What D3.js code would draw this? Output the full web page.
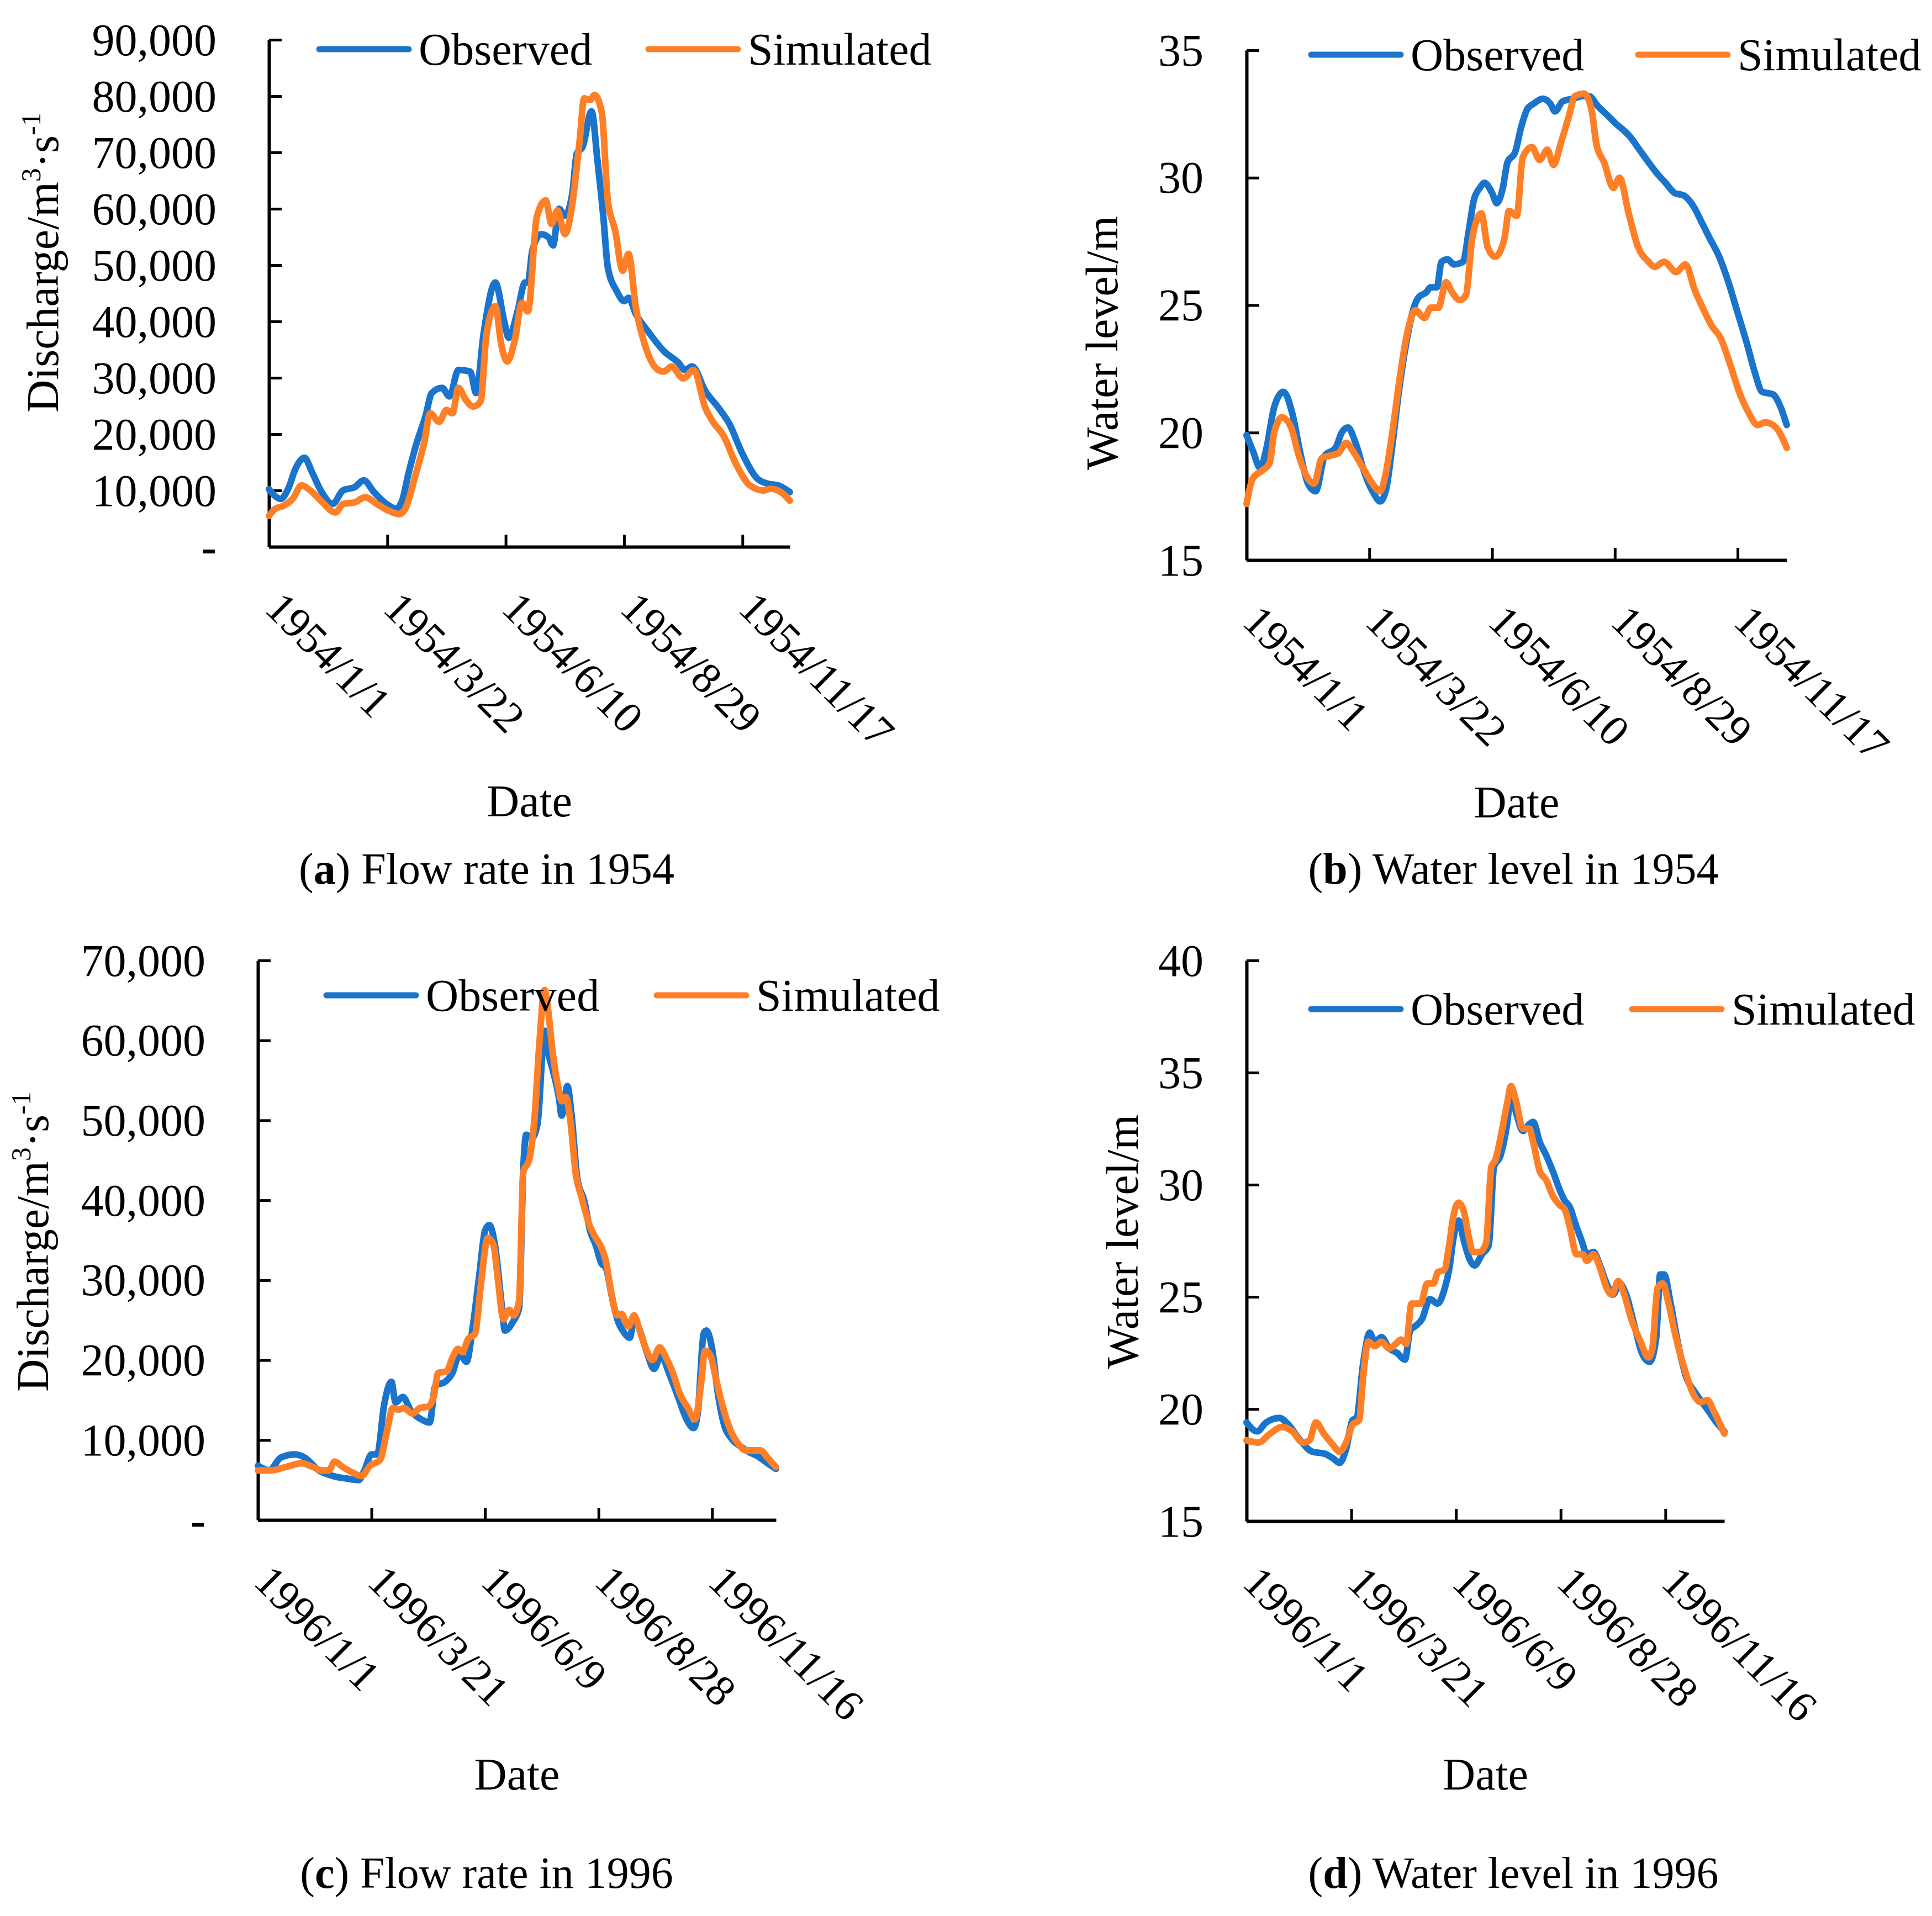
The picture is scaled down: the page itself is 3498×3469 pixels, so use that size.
<!DOCTYPE html>
<html>
<head>
<meta charset="utf-8">
<script src="https://cdn.jsdelivr.net/npm/d3@7"></script>
<style>
  body { margin: 0; background: #fff; }
  text { font-family: "Liberation Serif", "Times New Roman", serif; fill: #000; }
</style>
</head>
<body>
<div id="chart"></div>
<script>
// day index (0 = Jan 1) and value
var flow1954Obs = [[0,10200],[8,8500],[13,10300],[18,13900],[24,15800],[29,13300],[35,10000],[43,7600],[50,10000],[58,10600],[64,11800],[71,9700],[78,7900],[86,6800],[90,8200],[94,12700],[99,17700],[106,23400],[110,27300],[117,28200],[122,26700],[128,31400],[136,31100],[140,27300],[145,37700],[153,46900],[159,40000],[162,37100],[168,41800],[173,46900],[175,46900],[178,52600],[184,55500],[189,54900],[192,53500],[196,60000],[200,58800],[205,62700],[208,69800],[212,71000],[218,77300],[222,68600],[226,58500],[229,49600],[235,45400],[240,43600],[243,44200],[248,41300],[256,38300],[267,34700],[277,32600],[281,31400],[286,32000],[295,27600],[304,24600],[311,21900],[320,16500],[330,12100],[337,11200],[344,10900],[352,9700]];
var flow1954Sim = [[0,5500],[4,6700],[10,7300],[16,8500],[22,10900],[28,10000],[35,8200],[45,6100],[50,7600],[58,7900],[65,8800],[73,7600],[81,6400],[88,5800],[92,6700],[99,12700],[105,18600],[109,23700],[115,22200],[120,24300],[124,23700],[128,28200],[133,26100],[138,24900],[143,25800],[147,37700],[153,42700],[157,35900],[161,32900],[166,36500],[171,43300],[175,41800],[181,58500],[187,61500],[191,57300],[195,59700],[200,55500],[205,60900],[210,72200],[213,79600],[217,79300],[220,80200],[225,77000],[229,61500],[234,56100],[239,49000],[243,52000],[248,42400],[254,35900],[263,31400],[267,31100],[272,32000],[280,29900],[287,31400],[295,24600],[300,22200],[307,19800],[316,14500],[325,10900],[334,10000],[339,10300],[346,9700],[352,8200]];

var level1954Obs = [[0,19.9],[4,19.3],[9,18.6],[13,19.4],[18,21.0],[24,21.6],[30,20.7],[35,19.2],[40,18.0],[45,17.7],[51,19.1],[58,19.4],[62,20.0],[66,20.2],[71,19.6],[77,18.4],[83,17.6],[87,17.3],[91,17.8],[95,19.5],[99,21.5],[104,23.5],[109,24.9],[112,25.3],[117,25.5],[120,25.7],[124,25.7],[127,26.7],[131,26.8],[135,26.6],[141,26.7],[145,28.0],[148,29.1],[152,29.6],[155,29.8],[160,29.4],[163,29.0],[167,29.6],[170,30.6],[175,31.0],[179,32.0],[183,32.7],[187,32.9],[193,33.1],[198,32.9],[201,32.6],[206,33.0],[213,33.1],[219,33.2],[223,33.2],[229,32.8],[236,32.4],[241,32.1],[245,31.9],[250,31.6],[256,31.1],[262,30.6],[267,30.2],[273,29.8],[279,29.4],[285,29.3],[291,28.9],[297,28.2],[302,27.6],[308,26.9],[314,25.9],[320,24.7],[326,23.5],[331,22.4],[336,21.6],[343,21.5],[348,21.0],[352,20.3]];
var level1954Sim = [[0,17.2],[4,18.2],[10,18.5],[15,18.8],[18,20.0],[23,20.6],[29,20.2],[34,19.1],[40,18.2],[44,18.0],[49,19.0],[55,19.1],[60,19.2],[65,19.6],[69,19.3],[76,18.6],[82,18.0],[87,17.7],[90,18.2],[95,20.0],[99,21.8],[104,23.7],[110,24.8],[116,24.5],[120,24.9],[125,24.9],[130,25.9],[134,25.5],[139,25.2],[143,25.4],[147,27.6],[153,28.6],[157,27.3],[162,26.9],[168,27.6],[171,28.7],[176,28.5],[180,30.8],[186,31.2],[191,30.7],[196,31.1],[200,30.5],[205,31.4],[210,32.4],[214,33.2],[220,33.3],[225,32.6],[228,31.3],[233,30.6],[239,29.6],[243,30.0],[249,28.6],[255,27.3],[262,26.7],[266,26.5],[272,26.7],[280,26.3],[286,26.6],[292,25.6],[298,24.8],[303,24.2],[309,23.7],[315,22.7],[321,21.6],[327,20.8],[333,20.3],[338,20.4],[345,20.2],[352,19.4]];

var flow1996Obs = [[0,6800],[8,6200],[16,7800],[26,8200],[33,7800],[43,6200],[53,5500],[62,5200],[71,5000],[75,6200],[80,8200],[84,8200],[89,14500],[94,17300],[97,14700],[102,15400],[108,13600],[115,12600],[121,12200],[125,16800],[132,17300],[137,18400],[142,20700],[147,19800],[151,23700],[156,30700],[160,36200],[163,36900],[167,34400],[172,26500],[174,23700],[180,24900],[184,26500],[187,44100],[189,48200],[193,47800],[197,49600],[202,61200],[204,58900],[208,56100],[212,52900],[214,50600],[218,54300],[221,50600],[225,42700],[230,39900],[234,36200],[238,34400],[242,32100],[245,31600],[250,27400],[254,24700],[257,23700],[262,22800],[265,25100],[268,24200],[274,21000],[279,18900],[284,20500],[290,18200],[296,15400],[302,12600],[307,11500],[310,13600],[314,23300],[316,23700],[320,21400],[324,15900],[328,12200],[334,10100],[340,9200],[346,8500],[352,8000],[359,7100],[365,6400]];
var flow1996Sim = [[0,6200],[9,6200],[19,6600],[31,7100],[39,6600],[45,6200],[50,6200],[54,7300],[60,6600],[67,5900],[73,5500],[79,6800],[86,7500],[91,11200],[95,14000],[99,13800],[103,14000],[109,13300],[114,14000],[120,14200],[124,15600],[127,18400],[133,18600],[137,20300],[141,21400],[144,21000],[148,22600],[153,23300],[157,29300],[162,35300],[166,34400],[169,30200],[173,25100],[177,26300],[180,25600],[184,27400],[187,43600],[191,45000],[195,50600],[198,58900],[202,66300],[204,64400],[208,58000],[212,53800],[214,52400],[217,52900],[220,50100],[224,43200],[228,40400],[234,36700],[238,35300],[242,34100],[245,32500],[249,28400],[253,25600],[256,25800],[261,24200],[265,25600],[269,23700],[273,21600],[278,20000],[283,21600],[287,20500],[292,18600],[297,15900],[303,14000],[308,12600],[312,16800],[315,21200],[319,20500],[322,18200],[327,14500],[333,11200],[339,9400],[344,8700],[350,8700],[354,8700],[359,7800],[365,6600]];

var level1996Obs = [[0,19.4],[8,19.0],[15,19.4],[25,19.6],[32,19.3],[41,18.6],[50,18.1],[60,18.0],[66,17.8],[71,17.6],[76,18.2],[81,19.5],[84,19.6],[89,22.0],[94,23.4],[98,23.0],[103,23.2],[109,22.7],[115,22.5],[121,22.2],[125,23.5],[129,23.7],[134,24.0],[140,24.9],[146,24.7],[151,25.3],[155,26.3],[158,27.6],[162,28.4],[166,27.5],[171,26.6],[174,26.4],[180,26.9],[185,27.3],[189,30.8],[194,31.3],[199,32.7],[202,34.0],[206,33.2],[211,32.4],[216,32.7],[219,32.8],[224,31.9],[229,31.3],[234,30.6],[239,29.8],[243,29.3],[247,29.0],[251,28.3],[256,27.5],[260,26.9],[265,27.0],[270,26.4],[275,25.6],[280,25.1],[285,25.6],[290,25.1],[296,23.8],[302,22.5],[308,22.1],[313,23.2],[316,26.0],[319,26.0],[324,24.7],[330,22.8],[336,21.4],[342,20.8],[348,20.3],[353,19.9],[359,19.4],[365,19.0]];
var level1996Sim = [[0,18.6],[9,18.5],[18,18.9],[27,19.2],[35,19.0],[43,18.5],[48,18.6],[53,19.4],[59,18.9],[66,18.4],[71,18.1],[76,18.5],[81,19.3],[86,19.5],[89,21.4],[93,23.0],[98,22.8],[103,23.0],[109,22.7],[114,22.9],[118,23.1],[122,22.9],[126,24.7],[129,24.7],[133,24.7],[138,25.6],[143,25.6],[146,26.1],[151,26.2],[155,27.4],[158,28.6],[162,29.2],[166,28.8],[170,27.6],[173,27.0],[178,27.0],[183,27.4],[187,30.8],[190,31.1],[195,32.4],[199,33.6],[202,34.4],[206,33.7],[211,32.5],[216,32.5],[219,31.9],[224,30.6],[229,30.2],[234,29.5],[239,29.1],[243,28.9],[247,28.1],[252,26.9],[257,26.9],[260,26.6],[265,26.9],[270,26.3],[275,25.4],[279,25.1],[284,25.7],[288,25.2],[294,24.0],[301,23.0],[307,22.3],[310,22.7],[314,25.4],[318,25.6],[322,24.8],[328,23.2],[335,21.7],[341,20.7],[347,20.3],[352,20.4],[357,19.9],[365,18.9]];

var tickDays = [0, 80, 160, 240, 320];
var dateLabels1954 = ["1954/1/1", "1954/3/22", "1954/6/10", "1954/8/29", "1954/11/17"];
var dateLabels1996 = ["1996/1/1", "1996/3/21", "1996/6/9", "1996/8/28", "1996/11/16"];
var flowTicks1954 = [0, 10000, 20000, 30000, 40000, 50000, 60000, 70000, 80000, 90000];
var flowTicks1996 = [0, 10000, 20000, 30000, 40000, 50000, 60000, 70000];
var levelTicks1954 = [15, 20, 25, 30, 35];
var levelTicks1996 = [15, 20, 25, 30, 35, 40];
var seriesNames = ["Observed", "Simulated"];
var seriesColors = ["#1a74cc", "#ff7f27"];

var W = 3498, H = 3469;
var svg = d3.select("#chart").append("svg")
    .attr("width", W).attr("height", H)
    .attr("viewBox", "0 0 " + W + " " + H);
svg.append("rect").attr("width", W).attr("height", H).attr("fill", "#fff");

var fmt = d3.format(",");

var panels = [
  { obs: flow1954Obs, sim: flow1954Sim, days: 352, ticks: flowTicks1954, labels: dateLabels1954,
    left: 487, right: 1430, top: 72, bottom: 990, pad: 95, flow: true,
    titleX: 105, titleY: 475, leg: [578, 89, 1174], letter: "a", caption: " Flow rate in 1954",
    capX: 881, capY: 1600, dateY: 1478 },
  { obs: level1954Obs, sim: level1954Sim, days: 352, ticks: levelTicks1954, labels: dateLabels1954,
    left: 2257, right: 3235, top: 91, bottom: 1014, pad: 78, flow: false,
    titleX: 2023, titleY: 621, leg: [2374, 99, 2966], letter: "b", caption: " Water level in 1954",
    capX: 2740, capY: 1600, dateY: 1480 },
  { obs: flow1996Obs, sim: flow1996Sim, days: 365, ticks: flowTicks1996, labels: dateLabels1996,
    left: 467, right: 1405, top: 1739, bottom: 2752, pad: 95, flow: true,
    titleX: 87, titleY: 2248, leg: [591, 1802, 1189], letter: "c", caption: " Flow rate in 1996",
    capX: 881, capY: 3418, dateY: 3240 },
  { obs: level1996Obs, sim: level1996Sim, days: 365, ticks: levelTicks1996, labels: dateLabels1996,
    left: 2257, right: 3122, top: 1739, bottom: 2754, pad: 78, flow: false,
    titleX: 2060, titleY: 2248, leg: [2374, 1827, 2955], letter: "d", caption: " Water level in 1996",
    capX: 2740, capY: 3418, dateY: 3240 }
];

panels.forEach(function(p) {
  var g = svg.append("g");
  var x = d3.scaleLinear().domain([0, p.days]).range([p.left, p.right]);
  var y = d3.scaleLinear().domain([p.ticks[0], p.ticks[p.ticks.length - 1]]).range([p.bottom, p.top]);

  // y axis, ticks pointing inside
  var yAxis = d3.axisLeft(y).tickValues(p.ticks).tickSize(-23).tickSizeOuter(0).tickPadding(p.pad)
      .tickFormat(function(d) { return p.flow ? (d === 0 ? "-" : fmt(d)) : d; });
  var ya = g.append("g").attr("transform", "translate(" + p.left + ",0)").call(yAxis);
  ya.select(".domain").attr("stroke", "#000").attr("stroke-width", 6);
  ya.selectAll(".tick line").attr("stroke", "#000").attr("stroke-width", 5);
  ya.selectAll(".tick text").attr("font-family", "Liberation Serif").attr("font-size", 82)
      .attr("dy", "0.33em")
      .attr("font-weight", function(d) { return p.flow && d === 0 ? "bold" : null; });

  // x axis with rotated date labels
  var xAxis = d3.axisBottom(x).tickValues(tickDays).tickSize(-22).tickSizeOuter(0)
      .tickFormat(function(d, i) { return p.labels[i]; });
  var xa = g.append("g").attr("transform", "translate(0," + p.bottom + ")").call(xAxis);
  xa.select(".domain").attr("stroke", "#000").attr("stroke-width", 6);
  xa.selectAll(".tick line").attr("stroke", "#000").attr("stroke-width", 5);
  xa.selectAll(".tick text").attr("font-family", "Liberation Serif").attr("font-size", 79)
      .attr("x", 0).attr("y", 0).attr("dy", 0).attr("text-anchor", "start")
      .attr("transform", "translate(-11,115) rotate(45)");

  // series
  var line = d3.line().x(function(d) { return x(d[0]); }).y(function(d) { return y(d[1]); })
      .curve(d3.curveMonotoneX);
  [p.obs, p.sim].forEach(function(s, i) {
    g.append("path").datum(s).attr("d", line).attr("fill", "none")
      .attr("stroke", seriesColors[i]).attr("stroke-width", 12)
      .attr("stroke-linejoin", "round").attr("stroke-linecap", "round");
  });

  // legend
  [p.leg[0], p.leg[2]].forEach(function(lx, i) {
    g.append("line").attr("x1", lx).attr("x2", lx + 162).attr("y1", p.leg[1]).attr("y2", p.leg[1])
      .attr("stroke", seriesColors[i]).attr("stroke-width", 11).attr("stroke-linecap", "round");
    g.append("text").attr("x", lx + 180).attr("y", p.leg[1] + 28).attr("font-size", 82)
      .text(seriesNames[i]);
  });

  // y title
  var t = g.append("text").attr("text-anchor", "middle").attr("font-size", 82)
      .attr("transform", "translate(" + p.titleX + "," + p.titleY + ") rotate(-90)");
  if (p.flow) {
    t.append("tspan").text("Discharge/m");
    t.append("tspan").attr("font-size", 50).attr("dy", -32).text("3");
    t.append("tspan").attr("dy", 32).text("\u00b7s");
    t.append("tspan").attr("font-size", 50).attr("dy", -32).text("-1");
  } else {
    t.text("Water level/m");
  }

  // x title and caption
  g.append("text").attr("x", (p.left + p.right) / 2).attr("y", p.dateY)
    .attr("text-anchor", "middle").attr("font-size", 82).text("Date");
  var c = g.append("text").attr("x", p.capX).attr("y", p.capY)
    .attr("text-anchor", "middle").attr("font-size", 80);
  c.append("tspan").text("(");
  c.append("tspan").attr("font-weight", "bold").text(p.letter);
  c.append("tspan").text(")" + p.caption);
});
</script>
</body>
</html>
